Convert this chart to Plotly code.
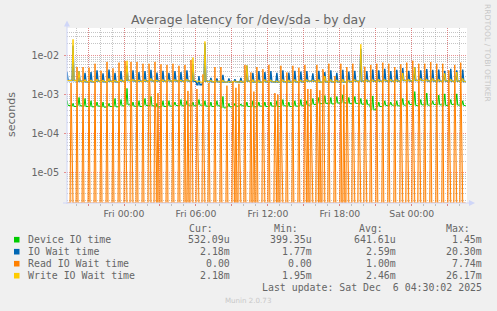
import numpy as np
import pandas as pd
import plotly.graph_objects as go

# ---------------- data ----------------
SLOT_START = "2025-12-04 19:05"   # first 30-min activity slot
SLOT_MIN = 30

# Read IO wait: spike value at slot, value 5 min later, value 15 min later (0 elsewhere)
read_peak = [0, 2.0e-3, 5.1e-3, 5.1e-3, 4.9e-3, 6.2e-3, 4.1e-3, 6.9e-3, 4.7e-3, 6.6e-3,
             7.3e-3, 6.9e-3, 6.9e-3, 6.2e-3, 6.2e-3, 6.9e-3, 6.0e-3, 5.8e-3, 6.2e-3, 5.5e-3,
             5.8e-3, 7.7e-3, 1.4e-3, 3.3e-3, 2.0e-3, 5.1e-3, 5.1e-3, 1.7e-3, 2.2e-3, 1.9e-3,
             5.8e-3, 3.7e-3, 5.1e-3, 4.5e-3, 5.8e-3, 1.1e-3, 5.5e-3, 3.7e-3, 5.5e-3, 4.9e-3,
             5.8e-3, 1.4e-3, 5.8e-3, 4.5e-3, 6.2e-3, 3.0e-3, 6.2e-3, 5.1e-3, 6.2e-3, 2.2e-3,
             5.2e-3, 5.8e-3, 6.2e-3, 6.6e-3, 6.2e-3, 5.1e-3, 6.0e-3, 6.6e-3, 7.4e-3, 6.2e-3,
             6.2e-3, 6.8e-3, 6.2e-3, 6.2e-3, 4.2e-3, 5.8e-3, 6.6e-3]
read_tail = [0, 4e-5, 0, 0, 0, 0, 0, 0, 0, 0,
             6e-5, 3e-5, 0, 0, 1.5e-3, 5e-5, 0, 0, 0, 0,
             0, 1.0e-3, 1.4e-5, 5e-5, 0, 0, 0, 0, 4e-5, 3e-5,
             0, 0, 0, 5e-5, 0, 8e-5, 3e-5, 0, 0, 0,
             5e-5, 4e-5, 6e-5, 2.7e-3, 0, 0, 0, 5e-5, 3e-5, 6e-5,
             4e-5, 0, 0, 0, 0, 0, 2.1e-5, 5e-5, 6e-5, 4e-5,
             0, 0, 0, 0, 5e-5, 6e-5, 4e-5]
read_mid = [0, 0, 0, 0, 0, 0, 0, 0, 0, 0,
            0, 0, 0, 0, 0, 1.1e-3, 0, 0, 0, 0,
            1.25e-3, 0, 0, 0, 0, 0, 0, 0, 1.5e-3, 0,
            0, 1.2e-3, 0, 0, 0, 1.0e-3, 0, 0, 0, 0,
            1.4e-3, 0, 1.3e-3, 0, 0, 0, 1.8e-3, 0, 0, 0,
            0, 0, 0, 0, 0, 0, 0, 0, 0, 0,
            0, 0, 0, 0, 0, 0, 0]

iowait_peak = [3.8e-3, 1.8e-2, 4.0e-3, 3.6e-3, 3.8e-3, 4.2e-3, 3.5e-3, 4.4e-3, 3.6e-3, 4.0e-3,
               5.5e-3, 4.2e-3, 3.8e-3, 4.0e-3, 4.3e-3, 3.7e-3, 4.1e-3, 3.6e-3, 4.0e-3, 3.8e-3,
               4.2e-3, 6.0e-3, 3.0e-3, 2.03e-2, 2.7e-3, 2.6e-3, 3.2e-3, 2.6e-3, 2.5e-3, 2.7e-3,
               5.6e-3, 3.6e-3, 4.0e-3, 3.8e-3, 4.0e-3, 3.6e-3, 4.2e-3, 3.7e-3, 4.1e-3, 3.9e-3,
               4.0e-3, 3.5e-3, 4.1e-3, 3.8e-3, 4.2e-3, 3.6e-3, 4.3e-3, 3.9e-3, 4.1e-3, 1.5e-2,
               4.0e-3, 4.4e-3, 4.2e-3, 4.6e-3, 4.0e-3, 4.3e-3, 4.8e-3, 4.1e-3, 5.0e-3, 4.2e-3,
               4.5e-3, 4.3e-3, 4.4e-3, 4.1e-3, 4.6e-3, 4.2e-3, 4.4e-3]
iowait_base = [2.3e-3, 2.3e-3, 2.2e-3, 2.15e-3, 2.15e-3, 2.2e-3, 2.15e-3, 2.2e-3, 2.15e-3, 2.2e-3,
               2.3e-3, 2.25e-3, 2.2e-3, 2.2e-3, 2.25e-3, 2.2e-3, 2.2e-3, 2.25e-3, 2.25e-3, 2.2e-3,
               2.25e-3, 2.2e-3, 1.8e-3, 2.2e-3, 2.15e-3, 2.15e-3, 2.1e-3, 2.1e-3, 2.15e-3, 2.1e-3,
               2.2e-3, 2.1e-3, 2.1e-3, 2.15e-3, 2.15e-3, 2.1e-3, 2.15e-3, 2.1e-3, 2.15e-3, 2.15e-3,
               2.2e-3, 2.2e-3, 2.1e-3, 2.15e-3, 2.15e-3, 2.15e-3, 2.1e-3, 2.15e-3, 2.2e-3, 2.2e-3,
               2.2e-3, 2.2e-3, 2.2e-3, 2.25e-3, 2.2e-3, 2.2e-3, 2.3e-3, 2.25e-3, 2.3e-3, 2.3e-3,
               2.25e-3, 2.25e-3, 2.2e-3, 2.25e-3, 2.2e-3, 2.2e-3, 2.18e-3]

write_peak = [2.35e-3, 2.6e-2, 4.0e-3, 2.45e-3, 2.4e-3, 2.5e-3, 2.4e-3, 2.6e-3, 2.4e-3, 2.45e-3,
              7.4e-3, 2.5e-3, 2.4e-3, 2.45e-3, 2.6e-3, 2.4e-3, 2.45e-3, 2.4e-3, 2.45e-3, 2.4e-3,
              2.5e-3, 8.9e-3, 2.3e-3, 2.3e-2, 2.4e-3, 2.3e-3, 2.4e-3, 2.25e-3, 2.25e-3, 2.3e-3,
              5.6e-3, 2.45e-3, 2.4e-3, 2.45e-3, 2.4e-3, 2.3e-3, 2.45e-3, 2.4e-3, 2.45e-3, 2.4e-3,
              2.45e-3, 2.4e-3, 2.45e-3, 3.0e-3, 2.45e-3, 2.4e-3, 2.5e-3, 2.4e-3, 2.45e-3, 1.95e-2,
              2.45e-3, 2.45e-3, 2.5e-3, 2.45e-3, 2.5e-3, 2.45e-3, 3.6e-3, 2.5e-3, 5.0e-3, 2.6e-3,
              2.5e-3, 2.6e-3, 2.5e-3, 3.5e-3, 2.5e-3, 3.8e-3, 2.6e-3]
write_base = [2.3e-3, 2.3e-3, 2.2e-3, 2.15e-3, 2.15e-3, 2.2e-3, 2.15e-3, 2.2e-3, 2.15e-3, 2.2e-3,
              2.3e-3, 2.25e-3, 2.2e-3, 2.2e-3, 2.25e-3, 2.2e-3, 2.2e-3, 2.25e-3, 2.25e-3, 2.2e-3,
              2.25e-3, 2.3e-3, 2.1e-3, 2.2e-3, 2.15e-3, 2.15e-3, 2.1e-3, 2.1e-3, 2.15e-3, 2.1e-3,
              2.2e-3, 2.1e-3, 2.1e-3, 2.15e-3, 2.15e-3, 2.1e-3, 2.15e-3, 2.1e-3, 2.15e-3, 2.15e-3,
              2.2e-3, 2.2e-3, 2.1e-3, 2.15e-3, 2.15e-3, 2.15e-3, 2.1e-3, 2.15e-3, 2.2e-3, 2.2e-3,
              2.2e-3, 2.2e-3, 2.2e-3, 2.25e-3, 2.2e-3, 2.2e-3, 2.3e-3, 2.25e-3, 2.3e-3, 2.3e-3,
              2.25e-3, 2.25e-3, 2.2e-3, 2.25e-3, 2.2e-3, 2.2e-3, 2.18e-3]

device_peak = [7.0e-4, 6.0e-4, 8.5e-4, 8.0e-4, 7.0e-4, 6.5e-4, 6.5e-4, 6.0e-4, 8.0e-4, 7.5e-4,
               1.45e-3, 6.5e-4, 7.0e-4, 8.0e-4, 9.0e-4, 6.0e-4, 7.0e-4, 7.0e-4, 6.5e-4, 7.5e-4,
               7.0e-4, 6.5e-4, 7.5e-4, 7.0e-4, 6.5e-4, 7.0e-4, 9.0e-4, 6.0e-4, 6.0e-4, 5.8e-4,
               6.5e-4, 7.0e-4, 6.5e-4, 6.5e-4, 6.5e-4, 7.0e-4, 7.5e-4, 6.5e-4, 7.0e-4, 7.5e-4,
               7.0e-4, 8.0e-4, 8.5e-4, 9.5e-4, 8.5e-4, 9.0e-4, 1.0e-3, 8.5e-4, 9.0e-4, 8.0e-4,
               7.5e-4, 9.3e-4, 6.5e-4, 7.0e-4, 6.5e-4, 7.0e-4, 8.0e-4, 7.0e-4, 1.2e-3, 7.5e-4,
               1.1e-3, 7.0e-4, 9.8e-4, 1.05e-3, 7.5e-4, 1.05e-3, 7.0e-4]
device_base = [5.3e-4, 5.0e-4, 5.2e-4, 5.0e-4, 4.9e-4, 5.1e-4, 4.8e-4, 5.0e-4, 4.9e-4, 5.2e-4,
               5.5e-4, 5.1e-4, 5.0e-4, 5.3e-4, 5.2e-4, 4.8e-4, 5.0e-4, 5.1e-4, 5.3e-4, 5.2e-4,
               5.4e-4, 5.2e-4, 5.4e-4, 5.1e-4, 5.0e-4, 5.2e-4, 4.6e-4, 4.9e-4, 5.1e-4, 5.2e-4,
               5.0e-4, 4.9e-4, 5.1e-4, 5.0e-4, 5.1e-4, 5.0e-4, 5.2e-4, 5.0e-4, 5.1e-4, 5.2e-4,
               5.4e-4, 5.6e-4, 5.9e-4, 6.0e-4, 5.8e-4, 6.1e-4, 6.2e-4, 5.9e-4, 6.0e-4, 5.7e-4,
               5.5e-4, 4.1e-4, 5.0e-4, 5.3e-4, 5.4e-4, 5.2e-4, 5.4e-4, 5.6e-4, 5.3e-4, 5.5e-4,
               5.4e-4, 5.6e-4, 5.5e-4, 5.3e-4, 5.6e-4, 5.4e-4, 5.3e-4]

SERIES_NAMES = ["Device IO time", "IO Wait time", "Read IO Wait time", "Write IO Wait time"]
SERIES_COLORS = ["#00CC00", "#0066B3", "#FF8000", "#FFCC00"]
CUR = ["532.09u", "2.18m", "0.00", "2.18m"]
MIN = ["399.35u", "1.77m", "0.00", "1.95m"]
AVG = ["641.61u", "2.59m", "1.00m", "2.46m"]
MAX = ["1.45m", "20.30m", "7.74m", "26.17m"]
LAST_UPDATE = "Last update: Sat Dec  6 04:30:02 2025"

X_TICK_TIMES = ["2025-12-05 00:00", "2025-12-05 06:00", "2025-12-05 12:00",
                "2025-12-05 18:00", "2025-12-06 00:00"]
X_TICK_LABELS = ["Fri 00:00", "Fri 06:00", "Fri 12:00", "Fri 18:00", "Sat 00:00"]
Y_TICK_VALUES = [1e-5, 1e-4, 1e-3, 1e-2]
Y_TICK_LABELS = ["1e-05", "1e-04", "1e-03", "1e-02"]

# ---------------- layout geometry ----------------
W, H = 497, 311
L, R, T, B = 67, 467, 28, 203
X_RANGE = ["2025-12-04 19:14:47", "2025-12-06 04:36:20"]
Y_RANGE = [-5.77, -1.294]
FLOOR = 10 ** Y_RANGE[0]

FONT = "#666666"
AXIS = "#CFD6F8"
MGRID = "rgba(225,110,110,0.75)"
GRID = "rgba(150,150,150,0.55)"


def px(x):
    return (x - L) / (R - L)


def py(y):
    return (B - y) / (B - T)


t0 = pd.Timestamp(SLOT_START)
slots = [t0 + pd.Timedelta(minutes=SLOT_MIN * i) for i in range(len(read_peak))]
mn = lambda k: pd.Timedelta(minutes=k)


def delayed_spike_line(peak, base):
    """Spike 10 min after each slot start, flat base otherwise."""
    xs, ys = [], []
    for t, p, b in zip(slots, peak, base):
        xs += [t, t + mn(5), t + mn(10), t + mn(15), t + mn(25)]
        ys += [b, b, p, b, b]
    return xs, ys


def read_line():
    xs, ys = [], []
    for t, p, tl, md in zip(slots, read_peak, read_tail, read_mid):
        xs += [t, t + mn(5), t + mn(10), t + mn(15), t + mn(20), t + mn(25)]
        ys += [p, tl, 0, md, 0, 0]
    return xs, list(np.maximum(np.array(ys, dtype=float), FLOOR))


fig = go.Figure()
gx, gy = delayed_spike_line(device_peak, device_base)
fig.add_trace(go.Scatter(x=gx, y=gy, mode="lines", line=dict(color=SERIES_COLORS[0], width=1)))
bx, by = delayed_spike_line(iowait_peak, iowait_base)
fig.add_trace(go.Scatter(x=bx, y=by, mode="lines", line=dict(color=SERIES_COLORS[1], width=1.4)))
fig.add_trace(go.Scatter(x=[slots[0], slots[-1] + mn(25)], y=[FLOOR, FLOOR], mode="lines",
                         line=dict(width=0, color="rgba(0,0,0,0)")))
rx, ry = read_line()
fig.add_trace(go.Scatter(x=rx, y=ry, mode="lines", line=dict(color=SERIES_COLORS[2], width=1),
                         fill="tonexty", fillcolor="rgba(255,128,0,0.22)"))
wx, wy = delayed_spike_line(write_peak, write_base)
fig.add_trace(go.Scatter(x=wx, y=wy, mode="lines", line=dict(color=SERIES_COLORS[3], width=1)))

# grid ticks
major_x = pd.date_range("2025-12-04 21:00", "2025-12-06 03:00", freq="3h")
major_text = [X_TICK_LABELS[X_TICK_TIMES.index(d.strftime("%Y-%m-%d %H:%M"))]
              if d.strftime("%Y-%m-%d %H:%M") in X_TICK_TIMES else "" for d in major_x]
minor_y = [k * 10.0 ** e for e in range(-6, -1) for k in range(2, 10)]

fig.update_xaxes(type="date", range=X_RANGE, tickmode="array", tickvals=list(major_x),
                 ticktext=major_text, showgrid=True, gridcolor=MGRID, gridwidth=1,
                 griddash="1px,1px", zeroline=False, showline=False,
                 ticks="outside", ticklen=2, tickcolor=MGRID,
                 tickfont=dict(family="DejaVu Sans", size=9.3, color=FONT),
                 minor=dict(dtick=3600000, tick0="2025-12-04 00:00", showgrid=True,
                            gridcolor=GRID, griddash="1px,1px", gridwidth=1,
                            ticks="outside", ticklen=2, tickcolor=GRID))
fig.update_yaxes(type="log", range=Y_RANGE, tickmode="array", tickvals=Y_TICK_VALUES,
                 ticktext=Y_TICK_LABELS, showgrid=True, gridcolor=MGRID, gridwidth=1,
                 griddash="1px,1px", zeroline=False, showline=False,
                 ticks="outside", ticklen=2, tickcolor=MGRID, ticklabelstandoff=3,
                 tickfont=dict(family="DejaVu Sans", size=9.6, color=FONT),
                 minor=dict(tickvals=minor_y, showgrid=True, gridcolor=GRID,
                            griddash="1px,1px", gridwidth=1))

shapes = [
    dict(type="line", xref="paper", yref="paper", x0=px(67), x1=px(67), y0=py(204), y1=py(24),
         line=dict(color=AXIS, width=1), layer="above"),
    dict(type="line", xref="paper", yref="paper", x0=px(63), x1=px(470), y0=py(203), y1=py(203),
         line=dict(color=AXIS, width=1), layer="above"),
    dict(type="path", xref="paper", yref="paper", layer="above", fillcolor=AXIS,
         line=dict(color=AXIS, width=0),
         path=f"M {px(64)} {py(26.5)} L {px(70)} {py(26.5)} L {px(67)} {py(20.5)} Z"),
    dict(type="path", xref="paper", yref="paper", layer="above", fillcolor=AXIS,
         line=dict(color=AXIS, width=0),
         path=f"M {px(469)} {py(200)} L {px(469)} {py(206)} L {px(475)} {py(203)} Z"),
]

ann = []


def text(x, y, s, size, anchor="left", color=FONT, family="DejaVu Sans Mono", angle=0):
    ann.append(dict(x=px(x), y=py(y), xref="paper", yref="paper", text=s, showarrow=False,
                    xanchor=anchor, yanchor="middle", textangle=angle, borderpad=0,
                    font=dict(family=family, size=size, color=color)))


text(248, 19.5, "Average latency for /dev/sda - by day", 12.5, "center", family="DejaVu Sans")
text(11, 114, "seconds", 11, "center", family="DejaVu Sans", angle=-90)
text(488, 53, "RRDTOOL / TOBI OETIKER", 7.6, "center", color="#C8C8C8",
     family="DejaVu Sans", angle=90)
text(248, 300, "Munin 2.0.73", 7.1, "center", color="#C8C8C8", family="DejaVu Sans")

for x, s in zip([213.5, 298.5, 383.5, 470.5], ["Cur:", "Min:", "Avg:", "Max:"]):
    text(x, 228, s, 9.9, "right")
row_y = [239.7, 251.7, 263.7, 275.7]
for i, name in enumerate(SERIES_NAMES):
    y = row_y[i]
    shapes.append(dict(type="rect", xref="paper", yref="paper", x0=px(14), x1=px(19.5),
                       y0=py(y - 2.8), y1=py(y + 2.8), fillcolor=SERIES_COLORS[i],
                       line=dict(width=0)))
    text(26.5, y, name, 9.9, "left")
    text(230.5, y, CUR[i], 9.9, "right")
    text(312.5, y, MIN[i], 9.9, "right")
    text(397, y, AVG[i], 9.9, "right")
    text(483, y, MAX[i], 9.9, "right")
text(483, 287.5, LAST_UPDATE, 9.9, "right")

fig.update_layout(width=W, height=H, autosize=False,
                  margin=dict(l=L, r=W - R, t=T, b=H - B, pad=0),
                  paper_bgcolor="#F0F0F0", plot_bgcolor="#FFFFFF",
                  showlegend=False, shapes=shapes, annotations=ann)

fig.write_html("out.html")
